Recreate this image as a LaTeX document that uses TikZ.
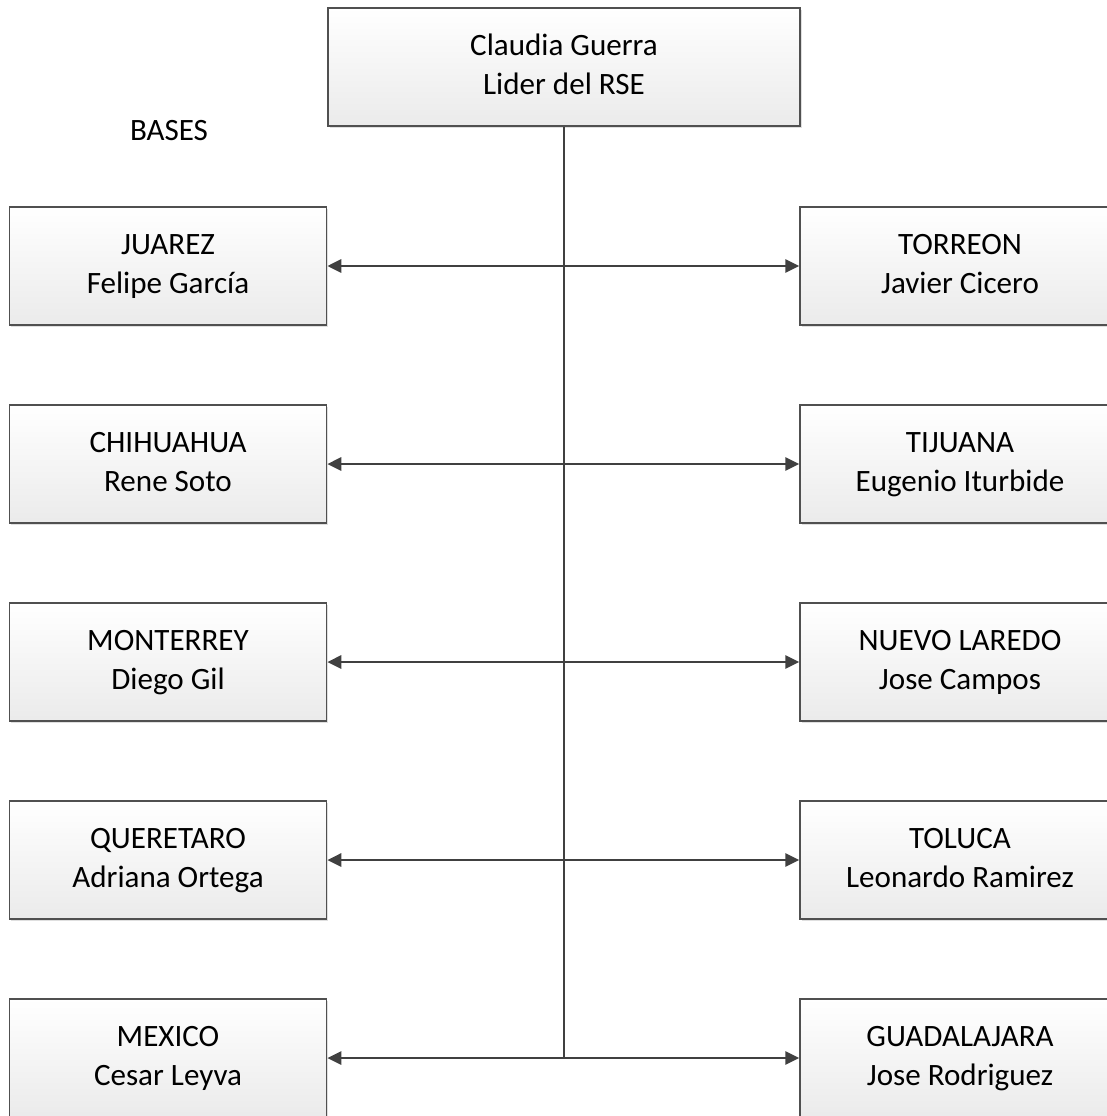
\documentclass[tikz,border=0pt]{standalone}
\usepackage{fontspec}
\setmainfont{Carlito}
\usetikzlibrary{arrows.meta,shadows}
\definecolor{linegray}{HTML}{404040}
\definecolor{boxline}{HTML}{505050}
\begin{document}
\begin{tikzpicture}[x=0.75pt, y=-0.75pt,
        txt/.style={font=\fontsize{23.3pt}{29.25pt}\selectfont, align=center, text=black},
        basebox/.style={txt, rectangle, draw=boxline, line width=1.1pt, top color=white, bottom color=gray!16,
            minimum height=88.5pt, inner sep=0pt,
            drop shadow={shadow xshift=1.2pt, shadow yshift=-1.5pt, opacity=0.25, fill=gray}},
        link/.style={draw=linegray, line width=1.6pt, {Triangle[length=10.5pt,width=10pt]}-{Triangle[length=10.5pt,width=10pt]}}]
    \useasboundingbox (0,0) rectangle (1106,1116);
    \node[basebox, minimum width=354pt] (lider) at (564,67) {\strut Claudia Guerra\\\strut Lider del RSE};
    \node[txt] (bases) at (169,131) {BASES};
    \foreach \ciudadA/\jefeA/\ciudadB/\jefeB [count=\i] in {%
            JUAREZ/Felipe García/TORREON/Javier Cicero,
            CHIHUAHUA/Rene Soto/TIJUANA/Eugenio Iturbide,
            MONTERREY/Diego Gil/NUEVO LAREDO/Jose Campos,
            QUERETARO/Adriana Ortega/TOLUCA/Leonardo Ramirez,
            MEXICO/Cesar Leyva/GUADALAJARA/Jose Rodriguez}{%
        \node[basebox, minimum width=238pt] (l\i) at (168,{266+198*(\i-1)}) {\strut\ciudadA\\\strut\jefeA};
        \node[basebox, minimum width=240pt] (r\i) at (960,{266+198*(\i-1)}) {\strut\ciudadB\\\strut\jefeB};
        \draw[link] (l\i.east) -- (r\i.west);
    }
    \draw[draw=linegray, line width=1.6pt] (lider.south) -- (lider.south |- l5.east);
\end{tikzpicture}
\end{document}
